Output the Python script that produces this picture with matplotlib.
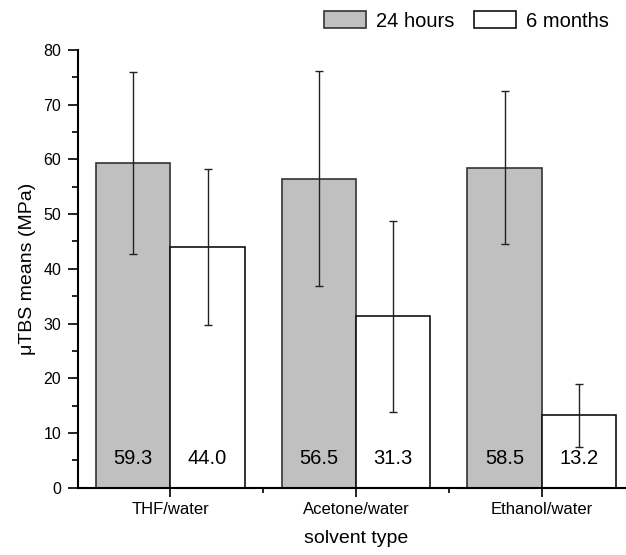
import matplotlib
matplotlib.use("Agg")
import matplotlib.pyplot as plt
import numpy as np

plt.rcParams['font.family'] = ['Liberation Sans', 'DejaVu Sans']

# data
categories = ['THF/water', 'Acetone/water', 'Ethanol/water']
hours_24 = [59.3, 56.5, 58.5]
months_6 = [44.0, 31.3, 13.2]
err_24 = [16.6, 19.6, 14.0]
err_6 = [14.3, 17.5, 5.7]

W, H = 626, 555
fig = plt.figure(figsize=(W / 100, H / 100), dpi=100)
ax = fig.add_axes([77.7 / W, 67.3 / H, 556.7 / W, 437.7 / H])

x = np.arange(len(categories))
bw = 0.4
b1 = ax.bar(x - bw / 2, hours_24, bw, color='#c0c0c0', edgecolor='#333333', linewidth=1.2, label='24 hours', zorder=2)
b2 = ax.bar(x + bw / 2, months_6, bw, color='white', edgecolor='#111111', linewidth=1.2, label='6 months', zorder=2)
ax.errorbar(x - bw / 2, hours_24, yerr=err_24, fmt='none', ecolor='#222222', elinewidth=1.0, capsize=3.2, capthick=1.0, zorder=3)
ax.errorbar(x + bw / 2, months_6, yerr=err_6, fmt='none', ecolor='#222222', elinewidth=1.0, capsize=3.2, capthick=1.0, zorder=3)

for xi, v in zip(x - bw / 2, hours_24):
    ax.text(xi, 5.4, f"{v:.1f}", ha='center', va='center', fontsize=14.5, zorder=4)
for xi, v in zip(x + bw / 2, months_6):
    ax.text(xi, 5.4, f"{v:.1f}", ha='center', va='center', fontsize=14.5, zorder=4)

ax.set_xlim(-0.5, 2.5)
ax.set_ylim(0, 80)
ax.set_xticks(x)
ax.set_xticklabels(categories, fontsize=12)
ax.set_xticks([0.5, 1.5], minor=True)
ax.set_yticks(np.arange(0, 81, 10))
ax.set_yticks(np.arange(5, 80, 10), minor=True)
ax.tick_params(axis='y', which='major', direction='out', length=7, width=1.2, labelsize=11.5, pad=5)
ax.tick_params(axis='y', which='minor', direction='out', length=4.5, width=1.2)
ax.tick_params(axis='x', which='major', direction='out', length=6.5, width=1.2, pad=4)
ax.tick_params(axis='x', which='minor', direction='out', length=3.5, width=1.2)

for side in ['top', 'right']:
    ax.spines[side].set_visible(False)
for side in ['left', 'bottom']:
    ax.spines[side].set_linewidth(1.5)

ax.set_ylabel('μTBS means (MPa)', fontsize=14, labelpad=5)
ax.set_xlabel('solvent type', fontsize=14, labelpad=9)

fig.legend(handles=[b1, b2], loc='center right', bbox_to_anchor=(609 / W, 1 - 21 / H),
           ncol=2, frameon=False, fontsize=14.5, handlelength=2.1, handleheight=0.85,
           handletextpad=0.5, columnspacing=0.95, borderpad=0, borderaxespad=0)

fig.savefig('out.png', dpi=100)
